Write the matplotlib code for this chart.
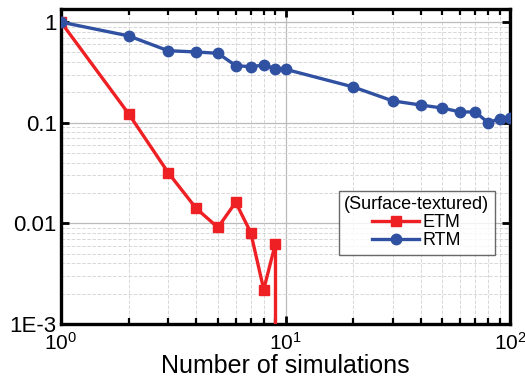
import numpy as np
import matplotlib
matplotlib.use("Agg")
import matplotlib.pyplot as plt
from matplotlib.ticker import LogLocator, FixedLocator, FixedFormatter, NullFormatter

plt.rcParams['font.family'] = ['Liberation Sans', 'DejaVu Sans']

# ETM: last point drops to zero (off the log axis)
etm_x = [1, 2, 3, 4, 5, 6, 7, 8, 9, 9]
etm_y = [1.0, 0.123, 0.032, 0.0141, 0.0091, 0.0162, 0.0081, 0.0022, 0.0062, 1e-5]

rtm_x = [1, 2, 3, 4, 5, 6, 7, 8, 9, 10, 20, 30, 40, 50, 60, 70, 80, 90, 100]
rtm_y = [1.0, 0.73, 0.52, 0.505, 0.49, 0.37, 0.36, 0.375, 0.345, 0.34,
         0.227, 0.165, 0.15, 0.14, 0.128, 0.128, 0.1, 0.11, 0.112]

ytick_vals = [1e-3, 1e-2, 1e-1, 1]
ytick_labels = ['1E-3', '0.01', '0.1', '1']

fig = plt.figure(figsize=(5.25, 3.84), dpi=100)
ax = fig.add_axes([61 / 525, 1 - 324 / 384, 449 / 525, 315 / 384])

ax.plot(etm_x[:-1], etm_y[:-1], color='#ee2024', lw=2.4, marker='s', ms=7, label='ETM', zorder=3)
ax.plot(etm_x[-2:], etm_y[-2:], color='#ee2024', lw=2.4, zorder=3)
ax.plot(rtm_x, rtm_y, color='#3050a2', lw=2.4, marker='o', ms=7.5, label='RTM', zorder=3)

ax.set_xscale('log')
ax.set_yscale('log')
ax.set_xlim(1, 100)
ax.set_ylim(1e-3, 1.35)

ax.yaxis.set_major_locator(FixedLocator(ytick_vals))
ax.yaxis.set_major_formatter(FixedFormatter(ytick_labels))
ax.yaxis.set_minor_locator(LogLocator(base=10, subs=np.arange(2, 10)))
ax.yaxis.set_minor_formatter(NullFormatter())
ax.xaxis.set_minor_locator(LogLocator(base=10, subs=np.arange(2, 10)))
ax.xaxis.set_minor_formatter(NullFormatter())

ax.grid(True, which='major', color='#bbbbbb', lw=0.9, ls='-')
ax.grid(True, which='minor', color='#d8d8d8', lw=0.7, ls='--')
ax.set_axisbelow(True)

ax.tick_params(which='major', direction='in', length=6, width=2, labelsize=16,
               top=True, right=True, pad=3)
ax.tick_params(axis='x', which='major', labelsize=15, pad=6)
ax.tick_params(which='minor', direction='in', length=4, width=1.6, top=True, right=True)
ax.tick_params(axis='y', which='minor', length=0)
for s in ax.spines.values():
    s.set_linewidth(2.4)

ax.set_xlabel('Number of simulations', fontsize=18, labelpad=0)

leg = ax.legend(title='(Surface-textured)', loc='upper left', bbox_to_anchor=(0.619, 0.422),
                fontsize=13, title_fontsize=13, frameon=True, fancybox=False,
                edgecolor='#444444', handlelength=2.6, borderpad=0.3,
                labelspacing=0.05, handletextpad=0.2, borderaxespad=0)
leg.get_frame().set_linewidth(1.0)

fig.savefig('out.png', dpi=100)
